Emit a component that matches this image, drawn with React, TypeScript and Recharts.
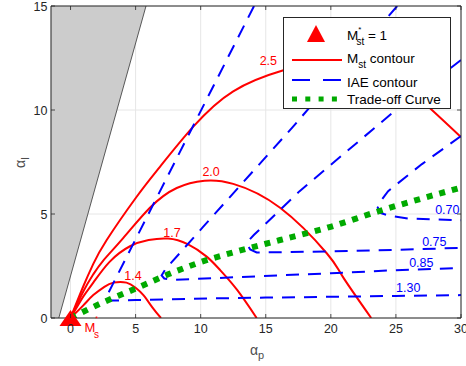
import {
  ComposedChart,
  Line,
  Area,
  XAxis,
  YAxis,
  CartesianGrid,
  ReferenceLine,
  ReferenceDot,
} from "recharts";

const X_TICKS = [0, 5, 10, 15, 20, 25, 30];
const Y_TICKS = [0, 5, 10, 15];

// shaded (infeasible) region, as a band [low, high] over alpha_p
const SHADE_X = [-1.5, -0.9, 5.8];
const SHADE_LOW = [0, 0, 15];
const SHADE_HIGH = [15, 15, 15];

// M_st contours
const MST14_X = [0, 1, 1.75, 2.6, 3.3, 4.3, 5, 5.6, 6.3, 6.95];
const MST14_Y = [0, 0.62, 1.1, 1.5, 1.7, 1.7, 1.45, 1.1, 0.5, 0];
const MST17_X = [0, 1, 1.75, 3, 4.57, 6, 7.5, 9, 10.46, 11.5, 12.8, 14.3];
const MST17_Y = [0, 1.05, 1.7, 2.7, 3.45, 3.75, 3.82, 3.55, 2.95, 2.3, 1.35, 0];
const MST20_X = [0, 1, 1.75, 2.5, 4.06, 6.1, 8.16, 10.3, 12.5, 16.1, 19.7, 20.9, 23.1];
const MST20_Y = [0, 1.3, 2.1, 2.75, 3.85, 5.3, 6.25, 6.6, 6.45, 5.3, 3.1, 2.0, 0];
const MST25_X = [0, 1, 1.75, 2.78, 5.08, 6.87, 9.43, 12.5, 16.3, 20, 24, 27.6, 30];
const MST25_Y = [0, 1.55, 2.6, 3.75, 5.83, 7.27, 9.2, 10.9, 11.9, 12.3, 11.8, 10.1, 8.7];

// IAE contours (diagonal branch, corner, then the flat branch)
const IAE130_X = [14.1, 2.78, 2.65, 2.8, 3.2, 5, 10.5, 15, 20, 25, 30];
const IAE130_Y = [15, 1.05, 0.92, 0.86, 0.84, 0.86, 0.94, 0.98, 1.02, 1.06, 1.1];
const IAE085_X = [25.1, 17.1, 10.2, 7.3, 7.0, 7.2, 7.9, 13, 20, 25, 30];
const IAE085_Y = [15, 9.2, 4.39, 2.35, 2.05, 1.9, 1.83, 1.97, 2.15, 2.3, 2.4];
const IAE075_X = [30, 25, 21.2, 17.6, 14.1, 13.65, 13.6, 13.8, 14.3, 20, 25, 30];
const IAE075_Y = [12.4, 10.0, 8.0, 6.1, 4.0, 3.7, 3.5, 3.3, 3.15, 3.2, 3.28, 3.37];
const IAE070_X = [30, 27, 24.4, 23.8, 23.6, 23.8, 24.5, 26, 30];
const IAE070_Y = [8.75, 7.4, 6.1, 5.6, 5.3, 5.05, 4.92, 4.78, 4.7];

// trade-off curve
const TRADE_X = [0, 2.5, 5.1, 7.5, 10.5, 12.3, 16.1, 19.9, 23.5, 30];
const TRADE_Y = [0, 0.75, 1.44, 2.1, 2.79, 3.12, 3.75, 4.37, 5.1, 6.27];

// contour labels
const RED_LABELS = ["2.5", "2.0", "1.7", "1.4"];
const RED_LABEL_X = [15.2, 10.8, 7.8, 4.8];
const RED_LABEL_Y = [12.35, 7.0, 4.1, 2.0];
const BLUE_LABELS = ["0.70", "0.75", "0.85", "1.30"];
const BLUE_LABEL_X = [28.95, 27.95, 26.95, 25.95];
const BLUE_LABEL_Y = [5.19, 3.65, 2.64, 1.44];

const MARKER = { x: 0, y: 0 };

const pts = (xs: number[], ys: number[]) => xs.map((x, i) => ({ x, y: ys[i] }));

const FONT = "'Liberation Sans', Arial, Helvetica, sans-serif";
const AXIS = "#262626";
const PLOT_TOP = 6;
const PLOT_BOTTOM = 318;
const PLOT_LEFT = 51;
const PLOT_RIGHT = 461;

const XTick = (props: any) => {
  const { x, y, payload } = props;
  return (
    <g>
      <line x1={x} x2={x} y1={PLOT_BOTTOM} y2={PLOT_BOTTOM - 4} stroke={AXIS} strokeWidth={0.8} />
      <line x1={x} x2={x} y1={PLOT_TOP} y2={PLOT_TOP + 4} stroke={AXIS} strokeWidth={0.8} />
      <text x={x} y={y + 15} textAnchor="middle" fontSize={12.5} fontFamily={FONT} fill={AXIS}>
        {payload.value}
      </text>
    </g>
  );
};

const YTick = (props: any) => {
  const { x, y, payload } = props;
  return (
    <g>
      <line x1={PLOT_LEFT} x2={PLOT_LEFT + 4} y1={y} y2={y} stroke={AXIS} strokeWidth={0.8} />
      <line x1={PLOT_RIGHT} x2={PLOT_RIGHT - 4} y1={y} y2={y} stroke={AXIS} strokeWidth={0.8} />
      <text x={x - 3.5} y={y + 4.5} textAnchor="end" fontSize={12.5} fontFamily={FONT} fill={AXIS}>
        {payload.value}
      </text>
    </g>
  );
};

const markerShape = (p: any) => (
  <g>
    <polygon
      points={`${p.cx},${p.cy - 8} ${p.cx - 11},${p.cy + 8} ${p.cx + 11},${p.cy + 8}`}
      fill="#ff0000"
    />
    <text x={p.cx + 14} y={p.cy + 14} fontSize={13} fontFamily={FONT} fill="#ff0000">
      M
      <tspan dy={-11} fontSize={7}>*</tspan>
      <tspan dx={-4} dy={17} fontSize={10}>s</tspan>
    </text>
  </g>
);

const labelShape = (text: string, color: string) => (p: any) => (
  <text
    x={p.cx}
    y={p.cy}
    textAnchor="middle"
    dominantBaseline="central"
    fontSize={12.5}
    fontFamily={FONT}
    fill={color}
  >
    {text}
  </text>
);

const redLines = [
  pts(MST14_X, MST14_Y),
  pts(MST17_X, MST17_Y),
  pts(MST20_X, MST20_Y),
  pts(MST25_X, MST25_Y),
];
const blueLines = [
  pts(IAE130_X, IAE130_Y),
  pts(IAE085_X, IAE085_Y),
  pts(IAE075_X, IAE075_Y),
  pts(IAE070_X, IAE070_Y),
];

export default function App() {
  const shade = SHADE_X.map((x, i) => ({ x, band: [SHADE_LOW[i], SHADE_HIGH[i]] }));
  const edge = [
    { x: SHADE_X[1], y: SHADE_LOW[1] },
    { x: SHADE_X[2], y: SHADE_LOW[2] },
  ];

  return (
    <div style={{ position: "absolute", left: 0, top: 0, width: 466, height: 366, background: "#fff" }}>
      <ComposedChart width={466} height={366} margin={{ top: 6, right: 5, bottom: 0, left: 0 }}>
        <CartesianGrid stroke="#e6e6e6" strokeWidth={1} />
        <XAxis
          type="number"
          dataKey="x"
          domain={[-1.5, 30]}
          ticks={X_TICKS}
          allowDataOverflow
          height={48}
          tickSize={0}
          tickMargin={0}
          tick={<XTick />}
          axisLine={{ stroke: AXIS }}
          tickLine={false}
          interval={0}
        />
        <YAxis
          type="number"
          domain={[0, 15]}
          ticks={Y_TICKS}
          allowDataOverflow
          width={51}
          tickSize={0}
          tickMargin={0}
          tick={<YTick />}
          axisLine={{ stroke: AXIS }}
          tickLine={false}
          interval={0}
        />
        <Area
          data={shade}
          dataKey="band"
          type="linear"
          fill="#cccccc"
          fillOpacity={1}
          stroke="none"
          isAnimationActive={false}
        />
        <Line data={edge} dataKey="y" type="linear" stroke="#333" strokeWidth={0.8} dot={false} isAnimationActive={false} />
        {redLines.map((d, i) => (
          <Line
            key={`r${i}`}
            data={d}
            dataKey="y"
            type="natural"
            stroke="#ff0000"
            strokeWidth={2}
            dot={false}
            isAnimationActive={false}
          />
        ))}
        {blueLines.map((d, i) => (
          <Line
            key={`b${i}`}
            data={d}
            dataKey="y"
            type="linear"
            stroke="#0000ff"
            strokeWidth={2}
            strokeDasharray="13 9"
            dot={false}
            isAnimationActive={false}
          />
        ))}
        <Line
          data={pts(TRADE_X, TRADE_Y)}
          dataKey="y"
          type="monotone"
          stroke="#00aa00"
          strokeWidth={6}
          strokeDasharray="6 7"
          dot={false}
          isAnimationActive={false}
        />
        {RED_LABELS.map((t, i) => (
          <ReferenceDot key={`rl${i}`} x={RED_LABEL_X[i]} y={RED_LABEL_Y[i]} r={0} shape={labelShape(t, "#ff0000")} />
        ))}
        {BLUE_LABELS.map((t, i) => (
          <ReferenceDot key={`bl${i}`} x={BLUE_LABEL_X[i]} y={BLUE_LABEL_Y[i]} r={0} shape={labelShape(t, "#0000ff")} />
        ))}
        <ReferenceLine y={15} stroke={AXIS} strokeWidth={1} />
        <ReferenceLine x={30} stroke={AXIS} strokeWidth={1} />
        <ReferenceDot x={MARKER.x} y={MARKER.y} r={0} ifOverflow="visible" shape={markerShape} />
      </ComposedChart>

      <svg
        width={466}
        height={366}
        style={{ position: "absolute", left: 0, top: 0, pointerEvents: "none" }}
        fontFamily={FONT}
      >
        <text x={250} y={355} fontSize={14} fill="#4d4d4d">
          α<tspan dy={4} fontSize={11}>p</tspan>
        </text>
        <text transform="translate(25,168) rotate(-90)" fontSize={14} fill="#4d4d4d">
          α<tspan dy={4} fontSize={11}>I</tspan>
        </text>

        <g transform="translate(283,17)">
          <rect x={0.5} y={0.5} width={167} height={91} fill="#fff" stroke={AXIS} strokeWidth={1} />
          <polygon points="33,8 24,25 42,25" fill="#ff0000" />
          <text x={64} y={23} fontSize={13.5} fill="#000">
            M<tspan dy={-8} fontSize={8}>*</tspan>
            <tspan dx={-5} dy={13} fontSize={10}>st</tspan>
            <tspan dy={-5}> = 1</tspan>
          </text>
          <line x1={9} x2={59} y1={43} y2={43} stroke="#ff0000" strokeWidth={2} />
          <text x={64} y={46} fontSize={13.5} fill="#000">
            M<tspan dy={5} fontSize={10}>st</tspan>
            <tspan dy={-5}> contour</tspan>
          </text>
          <line x1={9} x2={59} y1={63} y2={63} stroke="#0000ff" strokeWidth={2} strokeDasharray="18 13" />
          <text x={64} y={70} fontSize={13.5} fill="#000">
            IAE contour
          </text>
          <line x1={9} x2={59} y1={82} y2={82} stroke="#00aa00" strokeWidth={5} strokeDasharray="5 8.3" />
          <text x={64} y={87} fontSize={13.5} fill="#000">
            Trade-off Curve
          </text>
        </g>
      </svg>
    </div>
  );
}
